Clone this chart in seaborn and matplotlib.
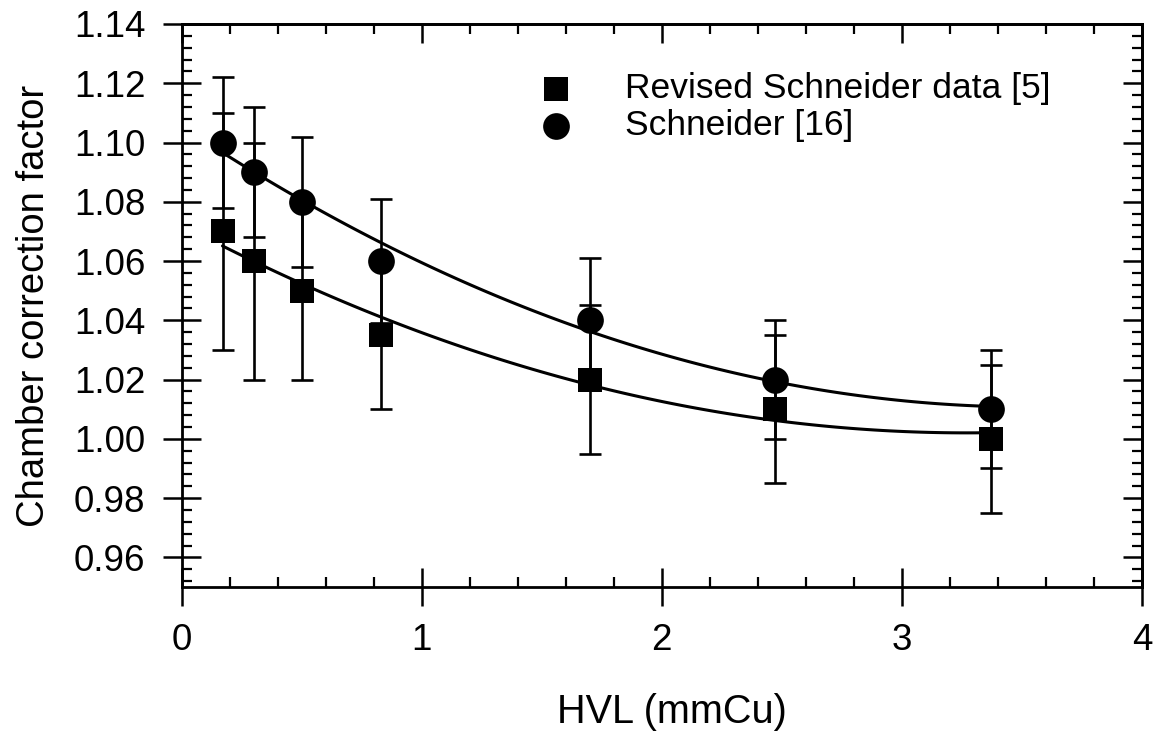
import numpy as np
import pandas as pd
import matplotlib
matplotlib.use("Agg")
import matplotlib.pyplot as plt
from matplotlib.ticker import MultipleLocator
import seaborn as sns

# ---- data ----
hvl = [0.17, 0.30, 0.50, 0.83, 1.70, 2.47, 3.37]
revised = [1.07, 1.06, 1.05, 1.035, 1.02, 1.01, 1.00]
revised_err = [0.04, 0.04, 0.03, 0.025, 0.025, 0.025, 0.025]
schneider = [1.10, 1.09, 1.08, 1.06, 1.04, 1.02, 1.01]
schneider_err = [0.022, 0.022, 0.022, 0.021, 0.021, 0.02, 0.02]
labels = ["Revised Schneider data [5]", "Schneider [16]"]
x_ticks = [0, 1, 2, 3, 4]
y_ticks = [0.96, 0.98, 1.00, 1.02, 1.04, 1.06, 1.08, 1.10, 1.12, 1.14]

sns.set_style("ticks")
plt.rcParams['font.family'] = ['Liberation Sans', 'DejaVu Sans']
plt.rcParams['text.color'] = 'black'
plt.rcParams['axes.labelcolor'] = 'black'

fig = plt.figure(figsize=(11.56, 7.33), dpi=100)
ax = fig.add_axes([181.7 / 1156, 1 - 587 / 733, (1142 - 181.7) / 1156, (587 - 24) / 733])

df_r = pd.DataFrame({"x": hvl, "y": revised})
df_s = pd.DataFrame({"x": hvl, "y": schneider})

# fitted curves
for df in (df_r, df_s):
    sns.regplot(data=df, x="x", y="y", order=2, ci=None, scatter=False, truncate=True,
                ax=ax, line_kws=dict(color="black", lw=2.2, zorder=2))

# error bars
ax.errorbar(hvl, revised, yerr=revised_err, fmt="none", ecolor="black", elinewidth=1.9,
            capsize=8, capthick=1.9, zorder=3)
ax.errorbar(hvl, schneider, yerr=schneider_err, fmt="none", ecolor="black", elinewidth=1.9,
            capsize=8, capthick=1.9, zorder=3)

# markers
sns.scatterplot(data=df_r, x="x", y="y", marker="s", s=290, color="black", edgecolor="black",
                linewidth=0, ax=ax, zorder=4, label=labels[0])
sns.scatterplot(data=df_s, x="x", y="y", marker="o", s=370, color="black", edgecolor="black",
                linewidth=0, ax=ax, zorder=4, label=labels[1])

ax.set_xlim(0, 4)
ax.set_ylim(0.95, 1.14)
ax.set_xticks(x_ticks)
ax.set_xticklabels([str(t) for t in x_ticks])
ax.set_yticks(y_ticks)
ax.set_yticklabels([f"{t:.2f}" for t in y_ticks])
ax.xaxis.set_minor_locator(MultipleLocator(0.2))
ax.yaxis.set_minor_locator(MultipleLocator(0.004))

ax.set_xlabel("HVL (mmCu)", fontsize=28.5, color="black")
ax.set_ylabel("Chamber correction factor", fontsize=27.5, labelpad=16, color="black")
ax.xaxis.set_label_coords(0.511, -0.188)

ax.tick_params(which="major", direction="inout", length=28, width=1.8, labelsize=26.5, pad=12,
               color="black", labelcolor="black")
ax.tick_params(which="minor", direction="in", length=7, width=1.6, color="black")
for sp in ax.spines.values():
    sp.set_visible(True)
    sp.set_linewidth(2.0)
    sp.set_color("black")

# top and right inward ticks
secx = ax.secondary_xaxis("top")
secx.set_xticks(x_ticks)
secx.xaxis.set_minor_locator(MultipleLocator(0.2))
secx.tick_params(which="major", direction="in", length=14, width=1.8, labeltop=False, color="black")
secx.tick_params(which="minor", direction="in", length=7, width=1.6, color="black")
secy = ax.secondary_yaxis("right")
secy.set_yticks(y_ticks)
secy.yaxis.set_minor_locator(MultipleLocator(0.004))
secy.tick_params(which="major", direction="in", length=14, width=1.8, labelright=False, color="black")
secy.tick_params(which="minor", direction="in", length=7, width=1.6, color="black")
for s in (secx, secy):
    for sp in s.spines.values():
        sp.set_linewidth(2.0)
        sp.set_color("black")

leg = ax.legend(loc="upper left", bbox_to_anchor=(0.371, 0.915), frameon=False, fontsize=25.5,
                handlelength=1.0, handletextpad=1.45, labelspacing=0.12, borderpad=0,
                borderaxespad=0)
for t in leg.get_texts():
    t.set_color("black")

fig.savefig("out.png", dpi=100)
